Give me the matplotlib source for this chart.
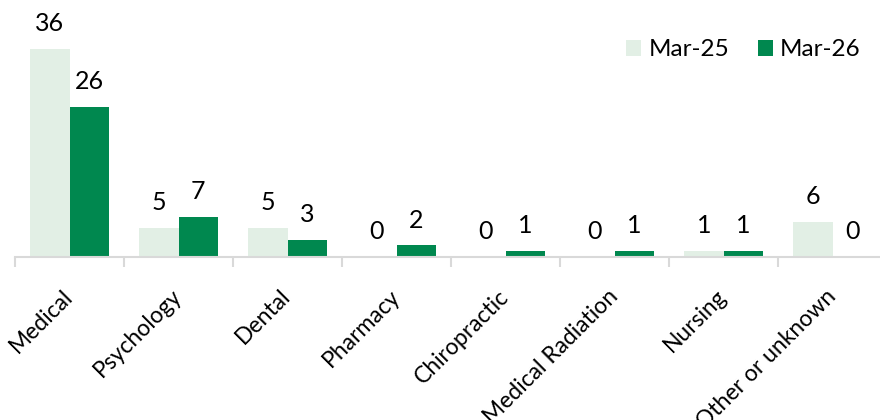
import matplotlib
matplotlib.use('Agg')
import matplotlib.pyplot as plt
import numpy as np

categories = ['Medical', 'Psychology', 'Dental', 'Pharmacy', 'Chiropractic',
              'Medical Radiation', 'Nursing', 'Other or unknown']
mar25 = [36, 5, 5, 0, 0, 0, 1, 6]
mar26 = [26, 7, 3, 2, 1, 1, 1, 0]
series_names = ['Mar-25', 'Mar-26']

plt.rcParams['font.family'] = ['Lato', 'DejaVu Sans']

light = '#e2efe5'
dark = '#00884f'

fig = plt.figure(figsize=(8.8, 4.2), dpi=100)
ax = fig.add_axes([15 / 880, 163 / 420, 872 / 880, 252 / 420])

x = np.arange(len(categories))
w = 0.358
b1 = ax.bar(x - w / 2, mar25, w, color=light, label=series_names[0])
b2 = ax.bar(x + w / 2, mar26, w, color=dark, label=series_names[1])

# value labels over each bar
for bars, vals in ((b1, mar25), (b2, mar26)):
    for r, v in zip(bars, vals):
        ax.annotate(str(v), (r.get_x() + r.get_width() / 2, v),
                    xytext=(0, 10), textcoords='offset points',
                    ha='center', va='bottom', fontsize=18)

ax.set_xlim(-0.5, len(categories) - 0.5)
ax.set_ylim(0, 43.6)

for s in ['top', 'right', 'left']:
    ax.spines[s].set_visible(False)
ax.spines['bottom'].set_color('#d9d9d9')
ax.spines['bottom'].set_linewidth(1.5)
ax.set_yticks([])

ax.set_xticks(x)
ax.set_xticklabels(categories, rotation=45, ha='right', va='center',
                   rotation_mode='anchor', fontsize=16.5)
ax.tick_params(axis='x', which='major', length=0, pad=26)
ax.set_xticks(np.arange(len(categories) + 1) - 0.5, minor=True)
ax.tick_params(axis='x', which='minor', length=7, width=1.5, color='#d9d9d9')

ax.legend(loc='upper right', bbox_to_anchor=(0.995, 0.95), frameon=False,
          fontsize=17.5, ncol=2, handlelength=0.6, handleheight=0.6,
          handletextpad=0.3, columnspacing=1.2)

fig.savefig('out.png', dpi=100)
